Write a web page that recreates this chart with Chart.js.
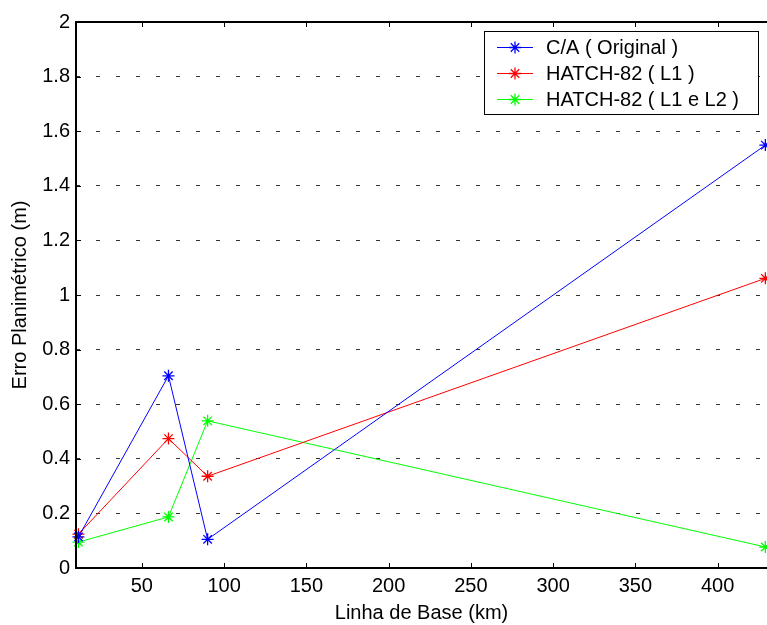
<!DOCTYPE html>
<html><head><meta charset="utf-8">
<script src="https://cdn.jsdelivr.net/npm/chart.js@4/dist/chart.umd.min.js"></script>
<style>html,body{margin:0;padding:0;background:#fff;overflow:hidden}#wrap{width:767px;height:625px;position:relative}</style>
</head><body><div id="wrap"><canvas id="c" width="767" height="625"></canvas></div>
<script>
const seriesNames = ['C/A ( Original )', 'HATCH-82 ( L1 )', 'HATCH-82 ( L1 e L2 )'];
const seriesColors = ['#0000ff', '#ff0000', '#00ff00'];
const baselineKm = [11.5, 66.2, 90, 429];
const caOriginal = [0.114, 0.704, 0.105, 1.549];
const hatchL1 = [0.124, 0.474, 0.336, 1.061];
const hatchL1L2 = [0.095, 0.187, 0.539, 0.077];
const xTicks = [50, 100, 150, 200, 250, 300, 350, 400];
const yTicks = [0, 0.2, 0.4, 0.6, 0.8, 1, 1.2, 1.4, 1.6, 1.8, 2];
const xRange = [10, 430];
const yRange = [0, 2];
const xTitle = 'Linha de Base (km)';
const yTitle = 'Erro Planimétrico (m)';

const FONT = 'Liberation Sans, Arial, Helvetica, sans-serif';
const allSeries = [caOriginal, hatchL1, hatchL1L2];

const datasets = allSeries.map((vals, i) => ({
  label: seriesNames[i],
  data: vals.map((v, j) => ({x: baselineKm[j], y: v})),
  borderColor: seriesColors[i],
  backgroundColor: seriesColors[i],
  borderWidth: 1,
  pointStyle: 'star',
  pointRadius: 6,
  pointBorderWidth: 1.3,
  pointBorderColor: seriesColors[i],
  tension: 0,
  fill: false,
  clip: false
}));

const framePlugin = {
  id: 'frame',
  afterDatasetsDraw(chart) {
    const {ctx, chartArea: {left, right, top, bottom}, scales: {x, y}} = chart;
    ctx.save();
    ctx.strokeStyle = '#000';
    ctx.lineWidth = 1;
    ctx.beginPath();
    xTicks.forEach(v => {
      const px = Math.round(x.getPixelForValue(v)) + 0.5;
      ctx.moveTo(px, bottom); ctx.lineTo(px, bottom - 5);
      ctx.moveTo(px, top); ctx.lineTo(px, top + 5);
    });
    yTicks.forEach(v => {
      const py = Math.round(y.getPixelForValue(v)) + 0.5;
      ctx.moveTo(left, py); ctx.lineTo(left + 5, py);
    });
    ctx.stroke();
    ctx.lineWidth = 2;
    ctx.beginPath();
    ctx.moveTo(right + 2, top);
    ctx.lineTo(left, top);
    ctx.lineTo(left, bottom);
    ctx.lineTo(right + 2, bottom);
    ctx.stroke();
    ctx.restore();
  }
};

const legendPlugin = {
  id: 'boxLegend',
  afterDraw(chart) {
    const ctx = chart.ctx;
    const bx = 484.5, by = 31.5, bw = 274, bh = 83;
    ctx.save();
    ctx.fillStyle = '#fff';
    ctx.fillRect(bx, by, bw, bh);
    ctx.strokeStyle = '#000';
    ctx.lineWidth = 1;
    ctx.strokeRect(bx, by, bw, bh);
    const rows = [47, 73, 99];
    chart.data.datasets.forEach((ds, i) => {
      const ry = rows[i] + 0.5;
      ctx.strokeStyle = ds.borderColor;
      ctx.lineWidth = 1;
      ctx.beginPath();
      ctx.moveTo(497, ry); ctx.lineTo(533, ry);
      ctx.stroke();
      ctx.lineWidth = 1.3;
      Chart.helpers.drawPoint(ctx, {pointStyle: 'star', radius: 6, rotation: 0, borderWidth: 1.3}, 515, ry);
      ctx.fillStyle = '#000';
      ctx.font = '20px ' + FONT;
      ctx.textBaseline = 'middle';
      ctx.textAlign = 'left';
      ctx.fillText(ds.label, 546, rows[i] + 1);
    });
    ctx.restore();
  }
};

new Chart(document.getElementById('c'), {
  type: 'line',
  data: {datasets},
  plugins: [framePlugin, legendPlugin],
  options: {
    responsive: false,
    devicePixelRatio: 1,
    animation: false,
    layout: {autoPadding: false, padding: {top: 22, right: 0, left: 0, bottom: 0}},
    plugins: {legend: {display: false}, tooltip: {enabled: false}},
    scales: {
      x: {
        type: 'linear',
        min: xRange[0], max: xRange[1],
        afterBuildTicks: s => { s.ticks = xTicks.map(v => ({value: v})); },
        afterFit: s => { s.height = 57; s.paddingRight = 0; s.paddingLeft = 0; },
        grid: {display: false, drawTicks: false},
        border: {display: false},
        ticks: {color: '#000', font: {family: FONT, size: 20}, padding: 6, maxRotation: 0, callback: v => String(v)},
        title: {display: true, text: xTitle, color: '#000', font: {family: FONT, size: 20}, padding: {top: 0, bottom: 0}}
      },
      y: {
        type: 'linear',
        min: yRange[0], max: yRange[1],
        afterBuildTicks: s => { s.ticks = yTicks.map(v => ({value: v})); },
        afterFit: s => { s.width = 76; },
        grid: {display: true, drawTicks: false, color: '#333', lineWidth: 1},
        border: {display: false, dash: [4, 16]},
        ticks: {color: '#000', font: {family: FONT, size: 20}, padding: 6, callback: v => String(v)},
        title: {display: true, text: yTitle, color: '#000', font: {family: FONT, size: 20}, padding: {top: 8, bottom: 0}}
      }
    }
  }
});
</script>
</body></html>
